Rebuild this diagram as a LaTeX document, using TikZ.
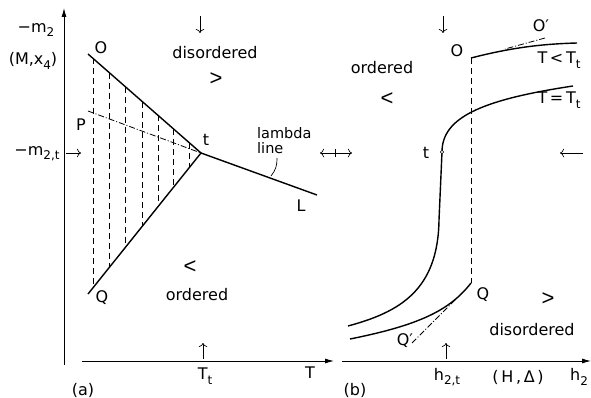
\documentclass[tikz,border=0pt]{standalone}
\usepackage{fontspec}
\setmainfont{DejaVu Sans}
\newfontfamily\signfont{Liberation Sans}
\usetikzlibrary{arrows.meta, calc, positioning}
\newcommand{\lowidx}[1]{\raisebox{-0.5ex}{\fontsize{12}{12}\selectfont #1}}

\begin{document}
\begin{tikzpicture}[
    x=1pt, y=-1pt,
    every node/.style={font=\fontsize{16}{17}\selectfont, inner sep=1pt},
    sign/.style={font=\signfont\fontsize{22}{22}\selectfont},
    axis/.style={line width=0.9pt, -{Latex[length=9pt,width=5pt]}},
    phase/.style={line width=1.4pt},
    tie/.style={line width=0.8pt, dash pattern=on 6pt off 4pt},
    chord/.style={line width=0.8pt, dash pattern=on 6pt off 2pt on 1pt off 2pt},
    flow/.style={line width=0.7pt, -{To[length=4pt]}},
    flows/.style={line width=0.7pt, {To[length=4pt]}-{To[length=4pt]}}
]
\useasboundingbox (0,0) rectangle (591,398);

% --- (a) : phase diagram in the (T, -m2) plane ---
\coordinate (yTop) at (64,8);
\coordinate (yBot) at (64,365);
\coordinate (xLeft) at (82,361);
\coordinate (xRight) at (334,361);
\draw[axis] (yBot) -- (yTop);
\draw[axis] (xLeft) -- (xRight);

\coordinate (O) at (88,54);
\coordinate (Q) at (88,294);
\coordinate (P) at (88,111);
\coordinate (t) at (201,153);
\coordinate (L) at (317,195);

\foreach \f in {0.045,0.19,0.33,0.48,0.62,0.76,0.90}
  \draw[tie] ($(O)!\f!(t)$) -- ($(Q)!\f!(t)$);
\draw[chord] (P) -- (t);
\draw[phase] (O) -- (t) -- (Q);
\draw[phase] (t) -- (L);

\node (lblO) at (101,48) {O};
\node (lblP) at (81,125) {P};
\node (lblQ) at (102,298) {Q};
\node (lblt) at (206,140) {t};
\node (lblL) at (301,206) {L};
\node[align=left, anchor=west, font=\fontsize{14.5}{15}\selectfont] (lambda) at (256,141) {lambda\\line};
\coordinate (lambdaTip) at (271,176);
\draw[line width=0.7pt] (277,158) to[bend left=20] (lambdaTip);

\node (mtwo) at (36,30) {−m\lowidx{2}};
\node (Mx) at (33,61) {(M,x\lowidx{4})};
\node (mtwot) at (37,154) {−m\lowidx{2,t}};
\coordinate (mtA) at (66,153);
\coordinate (mtB) at (81,153);
\draw[flow] (mtA) -- (mtB);

\coordinate (dnA) at (200,16);
\coordinate (dnB) at (200,33);
\draw[flow] (dnA) -- (dnB);
\node (disA) at (215,53) {disordered};
\node[sign] (gtA) at (216,79) {>};
\node[sign] (ltA) at (190,267) {<};
\node (ordA) at (197,295) {ordered};

\coordinate (TtA) at (203,359);
\coordinate (TtB) at (203,343);
\draw[flow] (TtA) -- (TtB);
\node (Tt) at (205,376) {T\lowidx{t}};
\node (T) at (310,373) {T};
\node (capA) at (83,390) {(a)};

% --- middle ---
\coordinate (dblA) at (320,153);
\coordinate (dblB) at (352,153);
\draw[flows] (dblA) -- (dblB);
\draw[line width=0.7pt] (335,149) -- (335,157);

% --- (b) : -m2 against h2 ---
\coordinate (hLeft) at (342,361);
\coordinate (hRight) at (591,361);
\draw[axis] (hLeft) -- (hRight);

\coordinate (Ob) at (471,58);
\coordinate (Qb) at (471,283);
\draw[tie] (Ob) -- (Qb);
\draw[phase] (Ob) .. controls (510,48) and (540,44) .. (577,43);
\draw[phase] (348,326) .. controls (400,312) and (438,290) .. (439,220)
  -- (442,152) .. controls (442,118) and (480,100) .. (573,86);
\draw[phase] (350,339) .. controls (420,325) and (450,310) .. (Qb);
\draw[line width=0.6pt, fill=white] (442,152) circle (1.8);

\coordinate (Opr) at (545,38);
\coordinate (OprT) at (505,49);
\draw[chord] (Opr) -- (OprT);
\coordinate (Qpr) at (412,343);
\coordinate (QprT) at (455,300);
\draw[chord] (Qpr) -- (QprT);

\node (lblOb) at (457,51) {O};
\node (lblOpr) at (541,26) {O′};
\node (lblQb) at (483,295) {Q};
\node (lblQpr) at (405,341) {Q′};
\node (lbltb) at (426,153) {t};
\node (below) at (559,60) {T\,<\,T\lowidx{t}};
\node (equal) at (559,100) {T\,=\,T\lowidx{t}};

\coordinate (dnC) at (443,16);
\coordinate (dnD) at (443,33);
\draw[flow] (dnC) -- (dnD);
\node (ordB) at (382,68) {ordered};
\node[sign] (ltB) at (387,99) {<};
\coordinate (lfA) at (583,153);
\coordinate (lfB) at (560,153);
\draw[flow] (lfA) -- (lfB);
\node[sign] (gtB) at (548,299) {>};
\node (disB) at (532,330) {disordered};

\coordinate (htA) at (446,359);
\coordinate (htB) at (446,343);
\draw[flow] (htA) -- (htB);
\node (h2t) at (447,377) {h\lowidx{2,t}};
\node (HD) at (518,377) {(\,H\,,\,Δ\,)};
\node (h2) at (579,377) {h\lowidx{2}};
\node (capB) at (355,390) {(b)};
\end{tikzpicture}
\end{document}
